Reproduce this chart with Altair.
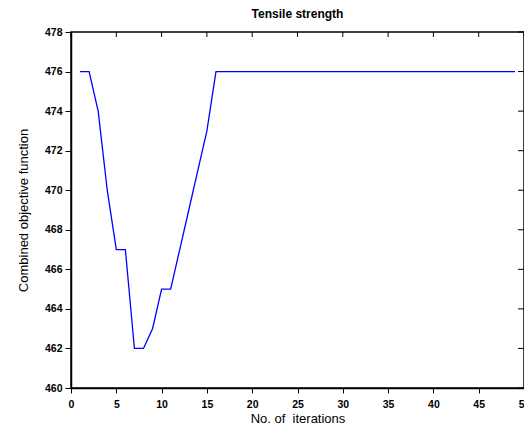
import altair as alt
import pandas as pd

iterations = list(range(1, 50))
objective = [476, 476, 474, 470, 467, 467, 462, 462, 463, 465, 465, 467, 469, 471, 473] + [476] * 34

x_ticks = [0, 5, 10, 15, 20, 25, 30, 35, 40, 45, 50]
y_ticks = [460, 462, 464, 466, 468, 470, 472, 474, 476, 478]

df = pd.DataFrame({"iter": iterations, "obj": objective})
xt = pd.DataFrame({"t": x_ticks})
yt = pd.DataFrame({"t": y_ticks})

W, H = 453, 356
FONT = "Liberation Sans"

xscale = alt.Scale(domain=[0, 50], nice=False, zero=False)
yscale = alt.Scale(domain=[460, 478], nice=False, zero=False)

x_axis = alt.Axis(title="No. of\u00a0 iterations", values=x_ticks, grid=False,
                  labelFlush=False, labelOverlap=False, tickSize=5,
                  labelPadding=6, titlePadding=3)
y_axis = alt.Axis(title="Combined objective function", values=y_ticks, grid=False,
                  tickSize=6, labelPadding=3, titlePadding=14,
                  labelFlush=False, labelOverlap=False)

line = alt.Chart(df).mark_line(color="#0000ff", strokeWidth=1.3).encode(
    x=alt.X("iter:Q", scale=xscale, axis=x_axis),
    y=alt.Y("obj:Q", scale=yscale, axis=y_axis),
)

top_ticks = alt.Chart(xt).mark_rule(color="black", strokeWidth=1).encode(
    x=alt.X("t:Q", scale=xscale, axis=x_axis),
    y=alt.value(0), y2=alt.value(5),
)

right_ticks = alt.Chart(yt).mark_rule(color="black", strokeWidth=1).encode(
    y=alt.Y("t:Q", scale=yscale, axis=y_axis),
    x=alt.value(W - 6), x2=alt.value(W),
)

chart = alt.layer(line, top_ticks, right_ticks).properties(
    width=W, height=H,
    title=alt.TitleParams("Tensile strength", fontSize=12, font=FONT, fontWeight="bold", offset=6),
    autosize=alt.AutoSizeParams(type="none"),
    padding={"left": 63, "top": 24, "right": 0, "bottom": 38},
).configure_view(
    stroke="black", strokeWidth=1.5
).configure_axis(
    labelFont=FONT, labelFontSize=10.5, labelFontWeight="bold", labelColor="black",
    titleFont=FONT, titleFontSize=13, titleFontWeight="normal", titleColor="black",
    domainColor="black", tickColor="black", domainWidth=1.5, tickWidth=1,
)

chart.save("out.html", embed_options={"renderer": "svg", "actions": False})
